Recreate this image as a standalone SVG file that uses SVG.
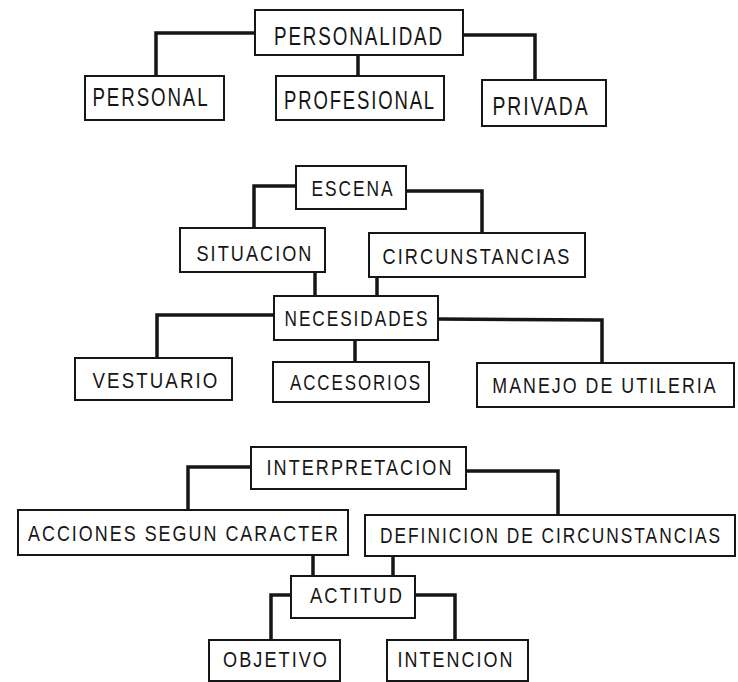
<svg xmlns="http://www.w3.org/2000/svg" width="738" height="682" viewBox="0 0 738 682">
<style>
.box{fill:#fff;stroke:#161616;stroke-width:2}
.lbl{font-family:"Liberation Sans",Arial,sans-serif;font-size:22px;letter-spacing:2.5px;fill:#161616;text-anchor:middle}
.big{font-size:25px;letter-spacing:2.5px}
.con{fill:none;stroke:#161616;stroke-width:3.5;stroke-linejoin:miter}
</style>
<rect width="738" height="682" fill="#fff"/>
<g id="connectors">
<polyline class="con" points="255,33 156,33 156,76"/>
<polyline class="con" points="358,55 358,76"/>
<polyline class="con" points="463,35 535,35 535,80"/>
<polyline class="con" points="296,186 254,186 254,228"/>
<polyline class="con" points="406,191 482,191 482,233"/>
<polyline class="con" points="315,272 315,296"/>
<polyline class="con" points="377,277 377,296"/>
<polyline class="con" points="274,315 157,315 157,358"/>
<polyline class="con" points="355,340 355,362"/>
<polyline class="con" points="438,319 602,320 602,363"/>
<polyline class="con" points="251,467 188,467 188,510"/>
<polyline class="con" points="466,471 558,471 558,515"/>
<polyline class="con" points="313,555 313,576"/>
<polyline class="con" points="393,556 393,576"/>
<polyline class="con" points="291,595 271,595 271,640"/>
<polyline class="con" points="415,595 455,595 455,640"/>
</g>
<g id="personalidad"><rect class="box" x="255" y="10" width="208" height="45"/><text class="lbl big" x="359" y="45" textLength="170" lengthAdjust="spacingAndGlyphs">PERSONALIDAD</text></g>
<g id="personal"><rect class="box" x="85" y="76" width="139" height="44"/><text class="lbl big" x="151" y="106" textLength="117" lengthAdjust="spacingAndGlyphs">PERSONAL</text></g>
<g id="profesional"><rect class="box" x="276" y="76" width="168" height="44"/><text class="lbl big" x="360" y="109" textLength="152" lengthAdjust="spacingAndGlyphs">PROFESIONAL</text></g>
<g id="privada"><rect class="box" x="482" y="80" width="124" height="46"/><text class="lbl big" x="541" y="115" textLength="97" lengthAdjust="spacingAndGlyphs">PRIVADA</text></g>
<g id="escena"><rect class="box" x="296" y="166" width="110" height="43"/><text class="lbl" x="353" y="196" textLength="83" lengthAdjust="spacingAndGlyphs">ESCENA</text></g>
<g id="situacion"><rect class="box" x="180" y="228" width="145" height="44"/><text class="lbl" x="255" y="261" textLength="117" lengthAdjust="spacingAndGlyphs">SITUACION</text></g>
<g id="circunstancias"><rect class="box" x="369" y="233" width="216" height="44"/><text class="lbl" x="477" y="264" textLength="189" lengthAdjust="spacingAndGlyphs">CIRCUNSTANCIAS</text></g>
<g id="necesidades"><rect class="box" x="274" y="296" width="164" height="44"/><text class="lbl" x="357" y="326" textLength="145" lengthAdjust="spacingAndGlyphs">NECESIDADES</text></g>
<g id="vestuario"><rect class="box" x="75" y="358" width="157" height="42"/><text class="lbl" x="156" y="388" textLength="127" lengthAdjust="spacingAndGlyphs">VESTUARIO</text></g>
<g id="accesorios"><rect class="box" x="273" y="362" width="156" height="40"/><text class="lbl" x="356" y="390" textLength="132" lengthAdjust="spacingAndGlyphs">ACCESORIOS</text></g>
<g id="manejo"><rect class="box" x="477" y="363" width="257" height="44"/><text class="lbl" transform="translate(605,393) scale(0.81,1)" x="0" y="0">MANEJO DE UTILERIA</text></g>
<g id="interpretacion"><rect class="box" x="251" y="447" width="215" height="42"/><text class="lbl" x="360" y="475" textLength="187" lengthAdjust="spacingAndGlyphs">INTERPRETACION</text></g>
<g id="acciones"><rect class="box" x="18" y="510" width="330" height="45"/><text class="lbl" x="184" y="541" textLength="312" lengthAdjust="spacingAndGlyphs">ACCIONES SEGUN CARACTER</text></g>
<g id="definicion"><rect class="box" x="365" y="515" width="370" height="41"/><text class="lbl" transform="translate(551,543) scale(0.789,1)" x="0" y="0">DEFINICION DE CIRCUNSTANCIAS</text></g>
<g id="actitud"><rect class="box" x="291" y="576" width="124" height="42"/><text class="lbl" x="357" y="603" textLength="94" lengthAdjust="spacingAndGlyphs">ACTITUD</text></g>
<g id="objetivo"><rect class="box" x="209" y="640" width="131" height="41"/><text class="lbl" x="276" y="667" textLength="106" lengthAdjust="spacingAndGlyphs">OBJETIVO</text></g>
<g id="intencion"><rect class="box" x="387" y="640" width="141" height="41"/><text class="lbl" x="456" y="667" textLength="117" lengthAdjust="spacingAndGlyphs">INTENCION</text></g>
</svg>
